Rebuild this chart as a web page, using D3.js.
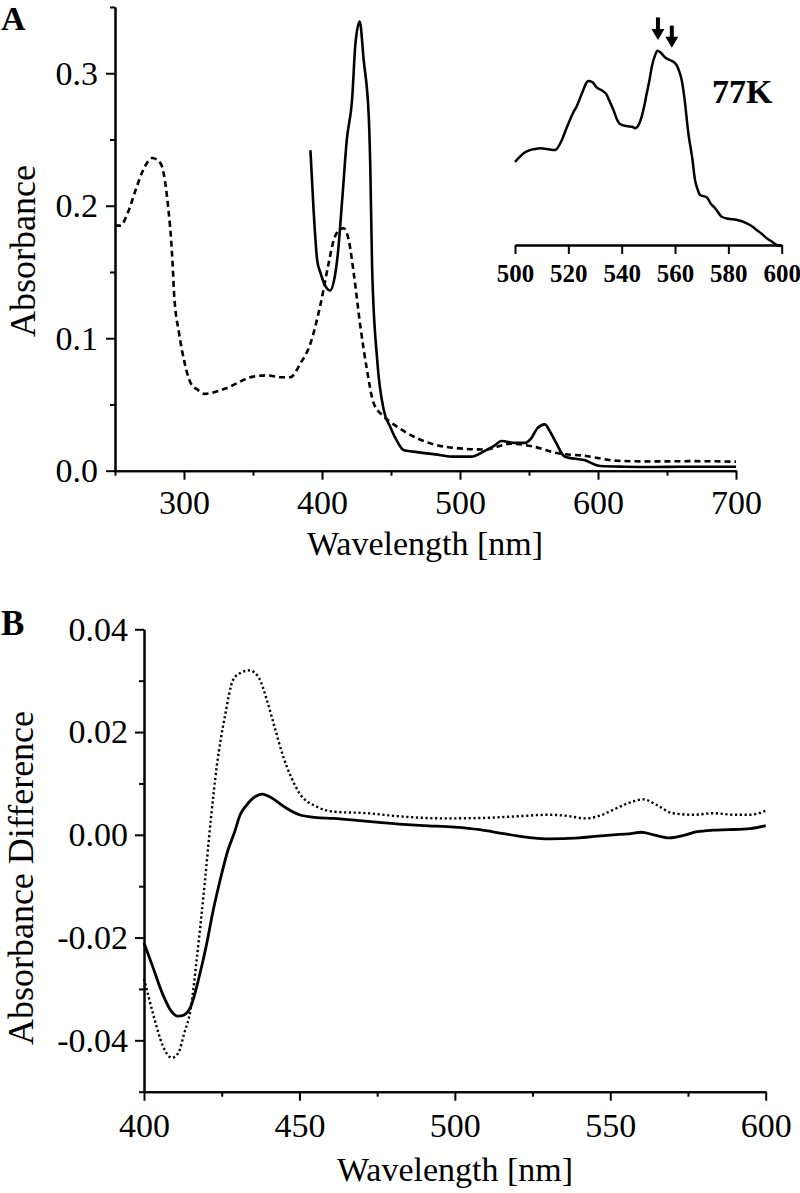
<!DOCTYPE html>
<html>
<head>
<meta charset="utf-8">
<script src="https://cdn.jsdelivr.net/npm/d3@7"></script>
<style>
  body { margin: 0; background: #fff; }
  svg { display: block; }
  text { font-family: "Liberation Serif", "Times New Roman", serif; fill: #000; }
</style>
</head>
<body>
<script>
// ---------- Panel A: absorbance spectra ----------
const aDashedWl  = [250,254,259,265,270,277,283,288,291.6,292.8,296.4,300,304.9,310,315,330,350,360,370,377,384.4,391.6,399,404.9,408.5,413,415.7,419.4,423,427.8,432.6,437.4,444.7,451.9,466,490,518,537,554,571,590,614,638,670,700];
const aDashedAbs = [0.185,0.185,0.194,0.212,0.226,0.236,0.232,0.204,0.159,0.134,0.104,0.0835,0.066,0.061,0.058,0.062,0.071,0.072,0.0705,0.0705,0.081,0.096,0.126,0.157,0.174,0.182,0.183,0.174,0.149,0.109,0.076,0.051,0.041,0.035,0.026,0.018,0.016,0.0204,0.018,0.0131,0.0113,0.0075,0.007,0.0072,0.0068];

const aSolidWl  = [391.6,394,396.5,399,402.7,406,409,411.5,414.6,418,421.8,424.2,427.3,430.2,433.9,435,436.3,440,444.7,449.5,454,459,466,482,494,508,518,525,530,540,547,552,556,561.5,565,569,576,590,602,620,640,660,680,700];
const aSolidAbs = [0.242,0.195,0.159,0.149,0.139,0.136,0.145,0.164,0.204,0.25,0.28,0.322,0.339,0.31,0.267,0.229,0.154,0.0835,0.046,0.033,0.023,0.0156,0.0144,0.0123,0.0106,0.0106,0.015,0.019,0.0224,0.021,0.021,0.025,0.032,0.035,0.03,0.0224,0.0106,0.008,0.0035,0.003,0.0028,0.003,0.003,0.003];

const aXMajor = [300,400,500,600,700];
const aXMinor = [250,350,450,550,650];
const aYMajor = [0.0,0.1,0.2,0.3];
const aYMinor = [0.05,0.15,0.25,0.35];

// ---------- Inset: 77K spectrum (arbitrary units) ----------
const insetWl  = [500,501.9,503.5,505.6,507.5,509.4,512,515,517.5,519,520.6,522,523.1,524.5,525.6,526.5,527.5,529,530.6,532.5,534.4,535.5,536.9,538,539.4,541.9,544,545,546.5,547.5,548.5,549.4,550.5,551.3,552.5,553.4,554.5,556.2,557.5,558.8,560.6,561.5,562.5,563.5,565,566.5,567.5,568.5,569.4,571.9,573.5,575,577.5,580,583,586.9,589,590.6,592.5,594.4,596.5,598.1,600];
const insetAbs = [0.406,0.431,0.45,0.463,0.468,0.472,0.468,0.463,0.51,0.56,0.61,0.65,0.675,0.72,0.756,0.785,0.80,0.795,0.769,0.755,0.732,0.70,0.659,0.62,0.59,0.58,0.577,0.569,0.59,0.626,0.68,0.74,0.81,0.87,0.925,0.948,0.94,0.916,0.905,0.898,0.878,0.85,0.805,0.72,0.545,0.42,0.317,0.27,0.244,0.233,0.2,0.18,0.138,0.128,0.123,0.106,0.09,0.073,0.055,0.033,0.015,0.0,-0.005];
const insetTicks = [500,520,540,560,580,600];
const insetArrowWl = [553.6,558.8];
const insetArrowTop = [1.11,1.07];
const insetArrowTip = [1.0,0.962];

// ---------- Panel B: difference spectra ----------
const bSolidWl  = [400,403,406,409,411,413,415,418,420,422.3,424.5,427,429,431,433,436,438,441,445,450,455,461,472,482,490,500,508,515,520,525,530,540,545,551,556,560,564,569,573,578,583,588,595,600];
const bSolidAbs = [-0.021,-0.026,-0.031,-0.0345,-0.0353,-0.035,-0.0335,-0.027,-0.0217,-0.0146,-0.0088,-0.003,0.0003,0.004,0.0058,0.0075,0.0079,0.0072,0.0055,0.0039,0.0034,0.0032,0.0026,0.0021,0.0018,0.0015,0.001,0.0003,-0.0002,-0.0006,-0.0008,-0.0006,-0.0003,0,0.0002,0.0005,0.0,-0.0006,-0.0002,0.0006,0.0009,0.001,0.0012,0.0018];

const bDotWl  = [400,403,406,409,411,413,415,417,419.6,421.5,423.4,426,428.7,431,434,437,439.5,442,444.8,447.5,450,455.5,461,472,482,497,510,520,530,536,542,547,551,556,560.6,565,570,577,583,590,595,600];
const bDotAbs = [-0.028,-0.035,-0.041,-0.0434,-0.0425,-0.0385,-0.034,-0.024,-0.009,0.003,0.0133,0.023,0.0302,0.0315,0.032,0.0305,0.0263,0.021,0.0152,0.011,0.0081,0.0055,0.0045,0.0042,0.0036,0.0032,0.0033,0.0036,0.0039,0.0037,0.0032,0.0038,0.0049,0.0062,0.0069,0.0058,0.0042,0.0039,0.0042,0.0039,0.0039,0.0047];

const bXMajor = [400,450,500,550,600];
const bXMinor = [425,475,525,575];
const bYMajor = [-0.04,-0.02,0.00,0.02,0.04];
const bYMinor = [-0.05,-0.03,-0.01,0.01,0.03];

const zip = (a, b) => a.map((v, i) => [v, b[i]]);

const svg = d3.select("body").append("svg")
  .attr("width", 800).attr("height", 1193);

function styleAxis(g, fontSize, bold) {
  g.select(".domain").attr("stroke", "#000").attr("stroke-width", 2);
  g.selectAll(".tick line").attr("stroke", "#000").attr("stroke-width", 2);
  g.selectAll(".tick text")
    .attr("font-family", "Liberation Serif")
    .attr("font-size", fontSize)
    .attr("font-weight", bold ? "bold" : "normal")
    .attr("fill", "#000");
}

function minorAxis(axisFn, scale, values, size) {
  return axisFn(scale).tickValues(values).tickSize(size).tickSizeOuter(0).tickFormat("");
}

// ===== Panel A =====
const xA = d3.scaleLinear().domain([250, 700]).range([115, 736]);
const yA = d3.scaleLinear().domain([0, 0.35]).range([470.7, 7]);

const gA = svg.append("g");
gA.append("g").attr("transform", `translate(0,${yA(0)})`)
  .call(minorAxis(d3.axisBottom, xA, aXMinor, 5))
  .call(g => styleAxis(g, 34));
gA.append("g").attr("transform", `translate(0,${yA(0)})`)
  .call(d3.axisBottom(xA).tickValues(aXMajor).tickSize(9).tickSizeOuter(0).tickPadding(10).tickFormat(d3.format("d")))
  .call(g => styleAxis(g, 34));
gA.append("g").attr("transform", `translate(${xA(250)},0)`)
  .call(minorAxis(d3.axisLeft, yA, aYMinor, 5))
  .call(g => styleAxis(g, 34));
gA.append("g").attr("transform", `translate(${xA(250)},0)`)
  .call(d3.axisLeft(yA).tickValues(aYMajor).tickSize(9).tickSizeOuter(0).tickPadding(8).tickFormat(d3.format(".1f")))
  .call(g => styleAxis(g, 34));

const lineA = d3.line().x(d => xA(d[0])).y(d => yA(d[1])).curve(d3.curveMonotoneX);
gA.append("path").datum(zip(aDashedWl, aDashedAbs))
  .attr("d", lineA).attr("fill", "none").attr("stroke", "#000")
  .attr("stroke-width", 2.6).attr("stroke-dasharray", "6,4");
gA.append("path").datum(zip(aSolidWl, aSolidAbs))
  .attr("d", lineA).attr("fill", "none").attr("stroke", "#000")
  .attr("stroke-width", 2.6);

gA.append("text").attr("x", 425).attr("y", 555).attr("text-anchor", "middle")
  .attr("font-size", 34).text("Wavelength [nm]");
gA.append("text").attr("transform", "translate(35,251) rotate(-90)")
  .attr("text-anchor", "middle").attr("font-size", 36).text("Absorbance");
gA.append("text").attr("x", 1).attr("y", 30).attr("font-size", 34)
  .attr("font-weight", "bold").text("A");

// ===== Inset =====
const xI = d3.scaleLinear().domain([500, 600]).range([515, 781.7]);
const yI = d3.scaleLinear().domain([0, 1]).range([245, 40]);
const gI = svg.append("g");
gI.append("g").attr("transform", `translate(0,${yI(0)})`)
  .call(d3.axisBottom(xI).tickValues(insetTicks).tickSize(9).tickSizeOuter(0).tickPadding(10).tickFormat(d3.format("d")))
  .call(g => styleAxis(g, 25, true));
gI.select(".domain").attr("stroke-width", 2.5);
const lineI = d3.line().x(d => xI(d[0])).y(d => yI(d[1])).curve(d3.curveMonotoneX);
gI.append("path").datum(zip(insetWl, insetAbs))
  .attr("d", lineI).attr("fill", "none").attr("stroke", "#000").attr("stroke-width", 2.5);

insetArrowWl.forEach((wl, i) => {
  const x = xI(wl), y0 = yI(insetArrowTop[i]), y1 = yI(insetArrowTip[i]);
  gI.append("line").attr("x1", x).attr("x2", x).attr("y1", y0).attr("y2", y1 - 9)
    .attr("stroke", "#000").attr("stroke-width", 4);
  gI.append("path")
    .attr("d", `M${x - 6.5},${y1 - 11} L${x + 6.5},${y1 - 11} L${x},${y1} Z`)
    .attr("fill", "#000");
});
gI.append("text").attr("x", 712).attr("y", 103).attr("font-size", 34)
  .attr("font-weight", "bold").text("77K");

// ===== Panel B =====
const xB = d3.scaleLinear().domain([400, 600]).range([144, 765.7]);
const yB = d3.scaleLinear().domain([-0.05, 0.04]).range([1091.7, 629.3]);
const gB = svg.append("g");
gB.append("g").attr("transform", `translate(0,${yB(-0.05)})`)
  .call(minorAxis(d3.axisBottom, xB, bXMinor, 5))
  .call(g => styleAxis(g, 34));
gB.append("g").attr("transform", `translate(0,${yB(-0.05)})`)
  .call(d3.axisBottom(xB).tickValues(bXMajor).tickSize(9).tickSizeOuter(0).tickPadding(12).tickFormat(d3.format("d")))
  .call(g => styleAxis(g, 34));
gB.append("g").attr("transform", `translate(${xB(400)},0)`)
  .call(minorAxis(d3.axisLeft, yB, bYMinor, 5))
  .call(g => styleAxis(g, 34));
gB.append("g").attr("transform", `translate(${xB(400)},0)`)
  .call(d3.axisLeft(yB).tickValues(bYMajor).tickSize(9).tickSizeOuter(0).tickPadding(7)
    .tickFormat(d => d3.format(".2f")(d).replace("\u2212", "-")))
  .call(g => styleAxis(g, 34));

const lineB = d3.line().x(d => xB(d[0])).y(d => yB(d[1])).curve(d3.curveMonotoneX);
gB.append("path").datum(zip(bDotWl, bDotAbs))
  .attr("d", lineB).attr("fill", "none").attr("stroke", "#000")
  .attr("stroke-width", 2.4).attr("stroke-dasharray", "2.2,2.6");
gB.append("path").datum(zip(bSolidWl, bSolidAbs))
  .attr("d", lineB).attr("fill", "none").attr("stroke", "#000")
  .attr("stroke-width", 2.8);

gB.append("text").attr("x", 455).attr("y", 1181).attr("text-anchor", "middle")
  .attr("font-size", 34).text("Wavelength [nm]");
gB.append("text").attr("transform", "translate(33,878) rotate(-90)")
  .attr("text-anchor", "middle").attr("font-size", 36).text("Absorbance Difference");
gB.append("text").attr("x", 1).attr("y", 635).attr("font-size", 35)
  .attr("font-weight", "bold").text("B");
</script>
</body>
</html>
